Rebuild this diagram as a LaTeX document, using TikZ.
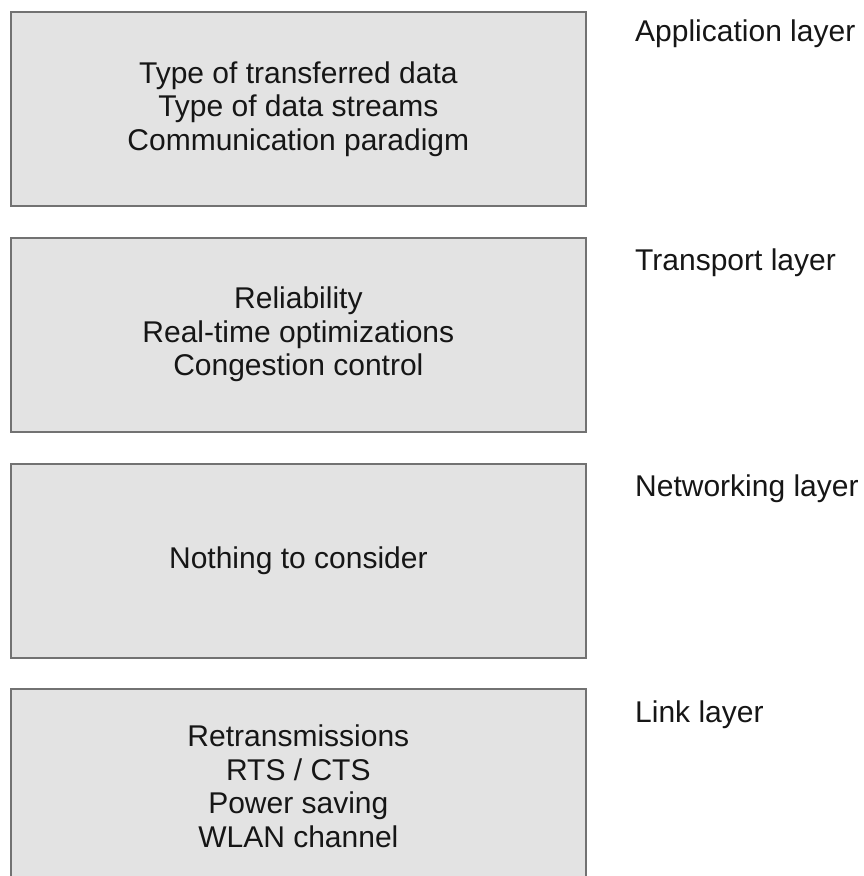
\documentclass[tikz,border=0pt]{standalone}
\usepackage{fontspec}
\setmainfont{Liberation Sans}
\definecolor{boxfill}{HTML}{E3E3E3}
\definecolor{boxline}{HTML}{727272}
\definecolor{ink}{HTML}{161616}
\begin{document}
\begin{tikzpicture}[x=1pt,y=-1pt,
  layerbox/.style={draw=boxline, fill=boxfill, line width=2.2pt,
    minimum width=575.5pt, minimum height=194pt, inner sep=0pt,
    align=center, anchor=north west, text=ink,
    font=\fontsize{30}{33.5}\selectfont},
  layername/.style={anchor=base west, inner sep=0pt, text=ink,
    font=\fontsize{30}{33.5}\selectfont}]
\useasboundingbox (0,0) rectangle (864,876);

% protocol layers, top to bottom
\node[layerbox] (app) at (9.5,11) {Type of transferred data\\Type of data streams\\Communication paradigm};
\node[layerbox] (trans) at (9.5,236.5) {Reliability\\Real-time optimizations\\Congestion control};
\node[layerbox] (net) at (9.5,462.5) {Nothing to consider};
\node[layerbox] (link) at (9.5,688) {Retransmissions\\RTS / CTS\\Power saving\\WLAN channel};

% layer names
\node[layername] (appname) at (635,41) {Application layer};
\node[layername] (transname) at (635,270) {Transport layer};
\node[layername] (netname) at (635,496) {Networking layer};
\node[layername] (linkname) at (635,722) {Link layer};
\end{tikzpicture}
\end{document}
